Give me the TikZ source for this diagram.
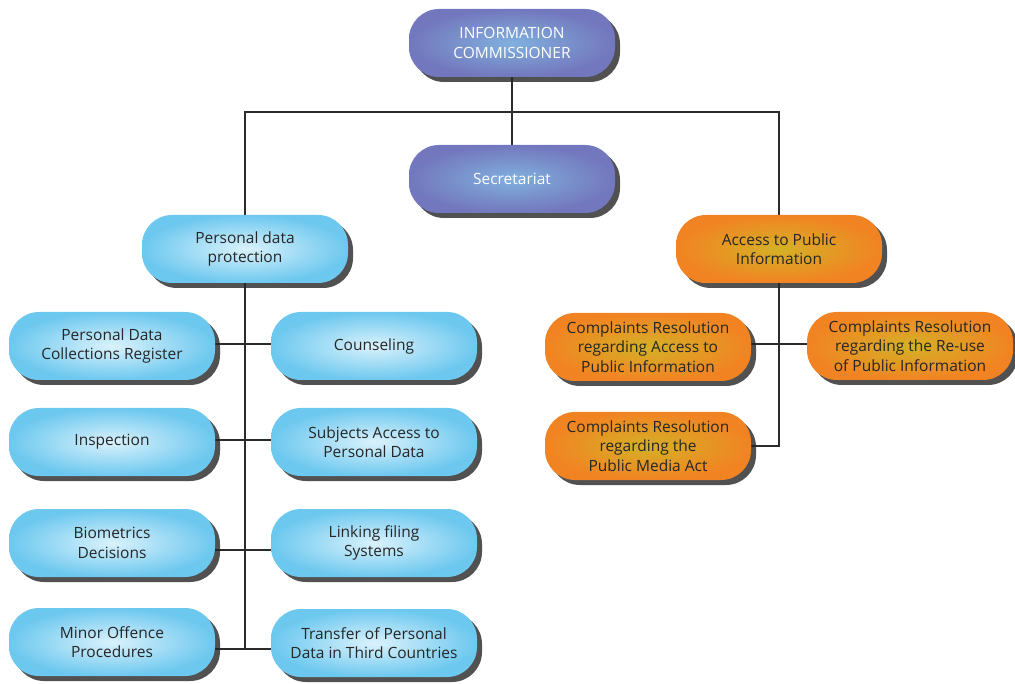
\documentclass[tikz,border=0pt]{standalone}
\usepackage{fontspec}
\setmainfont{Open Sans}
\usetikzlibrary{shadows,backgrounds}
\definecolor{bluedge}{HTML}{6DC8EF}
\definecolor{bluemid}{HTML}{DAF2FC}
\definecolor{purpedge}{HTML}{7377BD}
\definecolor{purpmid}{HTML}{80B0DE}
\definecolor{orgedge}{HTML}{F28322}
\definecolor{orgmid}{HTML}{D4B126}
\definecolor{linkgray}{HTML}{2B2B2B}
\begin{document}
\begin{tikzpicture}[x=1pt,y=-1pt,
  box/.style={rounded corners=30pt,minimum width=206pt,minimum height=68pt,inner sep=0pt,
    align=center,font=\fontsize{15.5}{19.5}\selectfont,
    drop shadow={shadow xshift=5pt,shadow yshift=-5pt,opacity=0.8,fill=black!85}},
  bluebox/.style={box,inner color=bluemid,outer color=bluedge,text=black!85},
  purplebox/.style={box,inner color=purpmid,outer color=purpedge,text=white},
  orangebox/.style={box,inner color=orgmid,outer color=orgedge,text=black!85},
  link/.style={draw=linkgray,line width=1.2pt}]
\useasboundingbox (0,0) rectangle (1015,684);
% top level
\node[purplebox] (ic) at (512,43) {INFORMATION\\COMMISSIONER};
\node[purplebox] (sec) at (512,179) {Secretariat};
\node[bluebox] (pdp) at (245,249) {Personal data\\protection};
\node[orangebox] (api) at (779,249) {Access to Public\\Information};
\coordinate (split) at (512,112);
% personal data protection
\node[bluebox] (pdcr) at (112,346) {Personal Data\\Collections Register};
\node[bluebox] (coun) at (374,346) {Counseling};
\node[bluebox] (insp) at (112,442) {Inspection};
\node[bluebox] (subj) at (374,442) {Subjects Access to\\Personal Data};
\node[bluebox] (biom) at (112,543) {Biometrics\\Decisions};
\node[bluebox] (link) at (374,543) {Linking filing\\Systems};
\node[bluebox] (mino) at (112,642) {Minor Offence\\Procedures};
\node[bluebox] (tran) at (374,643) {Transfer of Personal\\Data in Third Countries};
% access to public information
\node[orangebox] (craccess) at (648,347) {Complaints Resolution\\regarding Access to\\Public Information};
\node[orangebox] (crreuse) at (910,346) {Complaints Resolution\\regarding the Re-use\\of Public Information};
\node[orangebox] (crmedia) at (648,446) {Complaints Resolution\\regarding the\\Public Media Act};
% connectors
\begin{scope}[on background layer]
\draw[link] (ic) -- (sec);
\draw[link] (pdp) |- (split) -| (api);
\draw[link] (pdp) -- ([yshift=-7pt]pdp |- mino);
\draw[link] ([yshift=2pt]pdcr.east) -- ([yshift=2pt]pdcr.east -| coun.west);
\draw[link] ([yshift=2pt]insp.east) -- ([yshift=2pt]insp.east -| subj.west);
\draw[link] ([yshift=-7pt]biom.east) -- ([yshift=-7pt]biom.east -| link.west);
\draw[link] ([yshift=-7pt]mino.east) -- ([yshift=-7pt]mino.east -| tran.west);
\draw[link] (api) -- (api |- crmedia) -- (crmedia.east);
\draw[link] ([yshift=3pt]craccess.east) -- ([yshift=3pt]craccess.east -| crreuse.west);
\end{scope}
\end{tikzpicture}
\end{document}
